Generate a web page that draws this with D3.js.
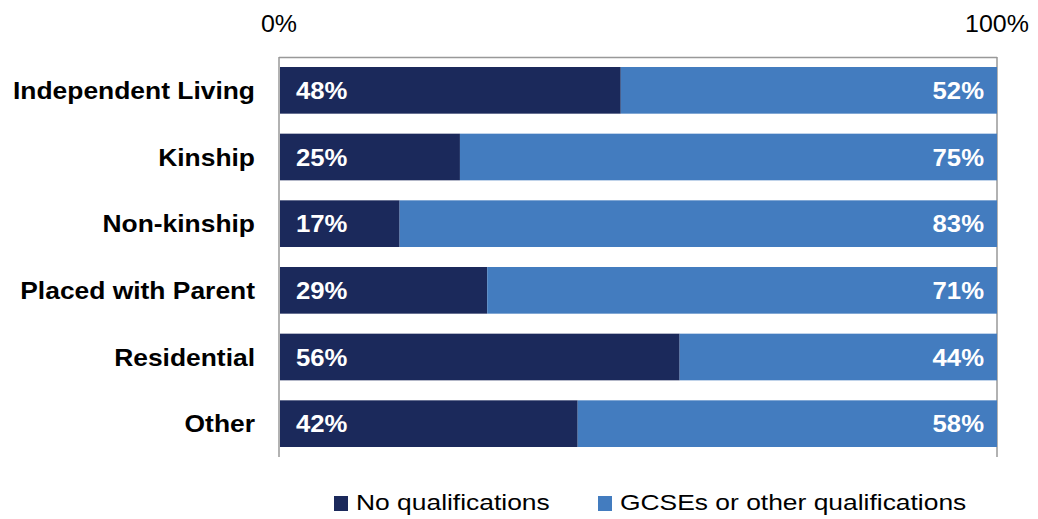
<!DOCTYPE html>
<html><head><meta charset="utf-8">
<script src="https://cdn.jsdelivr.net/npm/d3@7"></script>
<style>body{margin:0;background:#fff}svg{display:block;font-family:"Liberation Sans",Arial,sans-serif}</style>
</head><body><svg id="c" width="1038" height="519"></svg>
<script>
const categories = ["Independent Living","Kinship","Non-kinship","Placed with Parent","Residential","Other"];
const noQual = [47.6,25.2,16.8,29.0,55.8,41.6];
const gcse = [52.4,74.8,83.2,71.0,44.2,58.4];
const seriesNames = ["No qualifications","GCSEs or other qualifications"];
const colors = ["#1B295B","#437CBF"];
const tickValues = [0,100];

const svg = d3.select("#c");
const m = {l:279, r:997, t:57, b:457};
const x = d3.scaleLinear().domain([0,100]).range([m.l, m.r]);
const y = d3.scaleBand().domain(categories).range([m.t, m.b]).paddingInner(0.3).paddingOuter(0.15);
const pct = v => Math.round(v) + "%";

function stretch(sel, f){
  sel.each(function(){
    const w = this.getComputedTextLength();
    d3.select(this).attr("textLength", w*f).attr("lengthAdjust","spacingAndGlyphs");
  });
}

// frame lines
svg.append("line").attr("x1",m.l).attr("x2",m.r).attr("y1",m.t+0.5).attr("y2",m.t+0.5).attr("stroke","#999").attr("stroke-width",1.5);
tickValues.forEach(v=>{
  svg.append("line").attr("x1",x(v)).attr("x2",x(v)).attr("y1",m.t).attr("y2",m.b).attr("stroke","#999").attr("stroke-width",1.5);
});

// top axis labels
svg.selectAll(".tick").data(tickValues).join("text")
  .attr("x",d=>x(d)).attr("y",32).attr("text-anchor","middle")
  .attr("font-size",24).attr("fill","#000").text(d=>d+"%").call(stretch,1.04);

const rows = categories.map((c,i)=>({c, a:noQual[i], b:gcse[i]}));
const g = svg.append("g");
g.selectAll(".a").data(rows).join("rect")
  .attr("x",x(0)+1).attr("y",d=>y(d.c)).attr("width",d=>x(d.a)-x(0)-1).attr("height",y.bandwidth()).attr("fill",colors[0]);
g.selectAll(".b").data(rows).join("rect")
  .attr("x",d=>x(d.a)).attr("y",d=>y(d.c)).attr("width",d=>x(d.a+d.b)-x(d.a)).attr("height",y.bandwidth()).attr("fill",colors[1]);

g.selectAll(".la").data(rows).join("text")
  .attr("x",x(0)+17).attr("y",d=>y(d.c)+y.bandwidth()/2).attr("dy","0.36em")
  .attr("fill","#fff").attr("font-weight","bold").attr("font-size",24).text(d=>pct(d.a)).call(stretch,1.07);
g.selectAll(".lb").data(rows).join("text")
  .attr("x",x(100)-13).attr("y",d=>y(d.c)+y.bandwidth()/2).attr("dy","0.36em").attr("text-anchor","end")
  .attr("fill","#fff").attr("font-weight","bold").attr("font-size",24).text(d=>pct(d.b)).call(stretch,1.07);

// category labels
svg.selectAll(".cat").data(categories).join("text")
  .attr("x",255).attr("y",d=>y(d)+y.bandwidth()/2).attr("dy","0.36em").attr("text-anchor","end")
  .attr("font-weight","bold").attr("font-size",24).attr("fill","#000").text(d=>d).call(stretch,1.1);

// legend
const lx = [334, 598];
seriesNames.forEach((n,i)=>{
  svg.append("rect").attr("x",lx[i]).attr("y",496).attr("width",14).attr("height",15).attr("fill",colors[i]);
  svg.append("text").attr("x",lx[i]+22).attr("y",510).attr("font-size",22).attr("fill","#000").text(n).call(stretch,1.2);
});
</script></body></html>
